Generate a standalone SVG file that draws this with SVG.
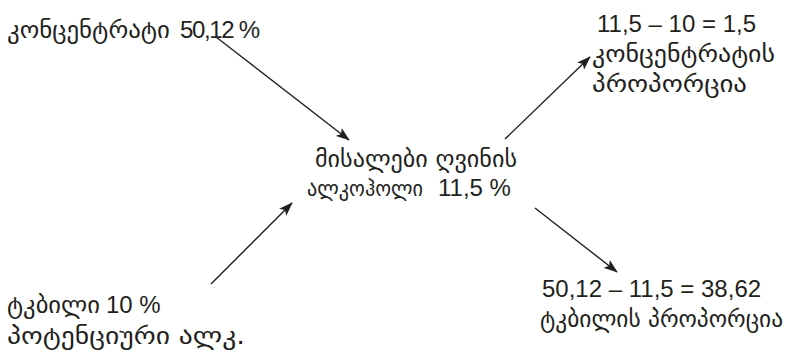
<svg xmlns="http://www.w3.org/2000/svg" width="797" height="352" viewBox="0 0 797 352">
<style>
text{font-family:"Liberation Sans","DejaVu Sans",sans-serif;font-size:24px;fill:#231f20}
.ka{font-family:"DejaVu Sans","Liberation Sans",sans-serif;font-size:24px}
.conn line{stroke:#231f20;stroke-width:1.4;fill:none;marker-end:url(#ah)}
</style>
<defs>
<marker id="ah" viewBox="0 0 14 10" refX="13" refY="5" markerWidth="14" markerHeight="10" markerUnits="userSpaceOnUse" orient="auto">
<path d="M0,0 L14,5 L0,10 L3,5 Z" fill="#231f20"/>
</marker>
</defs>
<g class="conn">
<line x1="216" y1="37" x2="349" y2="140"/>
<line x1="505" y1="139" x2="590" y2="57"/>
<line x1="211" y1="284" x2="292" y2="203"/>
<line x1="535" y1="208" x2="617" y2="272"/>
</g>
<g id="concentrate">
<text x="7" y="38" class="ka" textLength="163" lengthAdjust="spacingAndGlyphs">კონცენტრატი</text>
<text x="180" y="38" textLength="80" lengthAdjust="spacing">50,12 %</text>
</g>
<g id="concentrate-proportion">
<text x="597" y="32">11,5 – 10 = 1,5</text>
<text x="592" y="62" class="ka" textLength="183" lengthAdjust="spacingAndGlyphs">კონცენტრატის</text>
<text x="592" y="92" class="ka" textLength="155" lengthAdjust="spacingAndGlyphs">პროპორცია</text>
</g>
<g id="target">
<text x="315" y="167" class="ka" textLength="202" lengthAdjust="spacingAndGlyphs">მისალები ღვინის</text>
<text x="307" y="196" class="ka" style="font-size:22px" textLength="116" lengthAdjust="spacingAndGlyphs">ალკოჰოლი</text>
<text x="438" y="196">11,5 %</text>
</g>
<g id="must">
<text x="7" y="313" class="ka" textLength="93" lengthAdjust="spacingAndGlyphs">ტკბილი</text>
<text x="106" y="313">10 %</text>
<text x="7" y="344" class="ka" textLength="238" lengthAdjust="spacingAndGlyphs">პოტენციური ალკ.</text>
</g>
<g id="must-proportion">
<text x="542" y="297">50,12 – 11,5 = 38,62</text>
<text x="540" y="327" class="ka" textLength="243" lengthAdjust="spacingAndGlyphs">ტკბილის პროპორცია</text>
</g>
</svg>
